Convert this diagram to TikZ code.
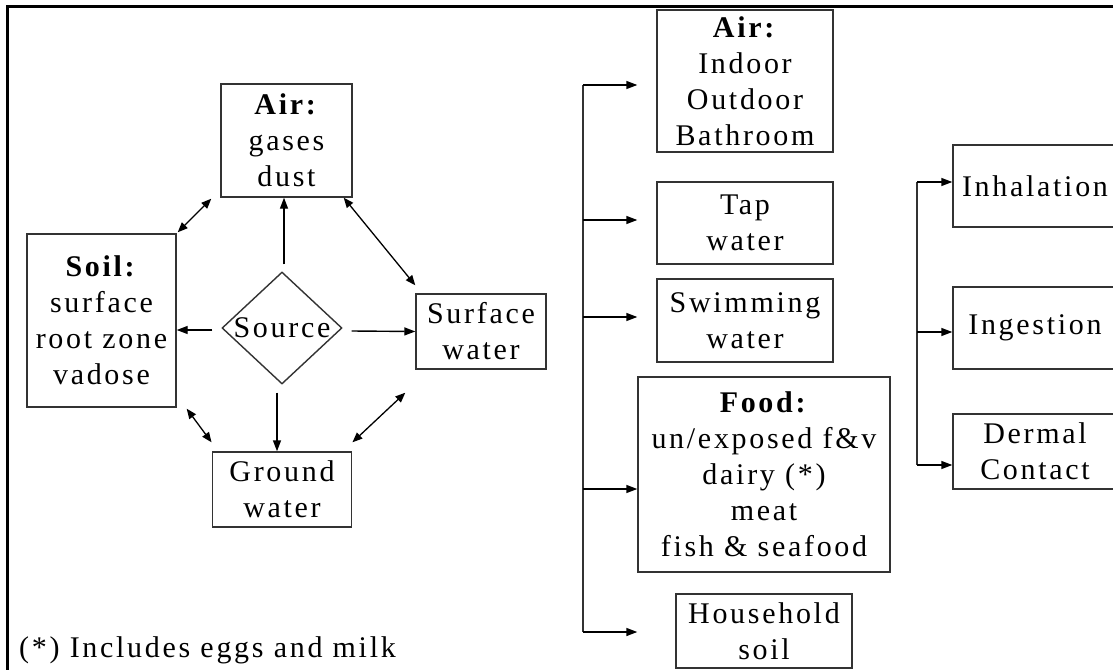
\documentclass[tikz,border=0pt]{standalone}
\usepackage{fontspec}
\setmainfont{Liberation Serif}[LetterSpace=9]
\usetikzlibrary{shapes.geometric,arrows.meta,calc}
\newcommand\fsz{\fontsize{30}{36}\selectfont}
\tikzset{
  box/.style={draw=black!80, line width=1.4pt, align=center, inner sep=0pt, font=\fsz},
  arr/.style={line width=1.4pt, -{Triangle[length=11pt,width=8pt]}},
  darr/.style={line width=1.3pt, {Triangle[length=10pt,width=8pt]}-{Triangle[length=10pt,width=8pt]}},
  trunk/.style={line width=1.5pt, draw=black!80}
}
\begin{document}
\begin{tikzpicture}[x=1pt,y=-1pt]
\useasboundingbox (0,0) rectangle (1113,669);
\clip (0,0) rectangle (1113,669);
\fill[white] (0,0) rectangle (1113,669);
\draw[line width=3pt] (7,7) rectangle (1130,690);

% left cluster
\node[box, minimum width=131pt, minimum height=113pt] (airL) at (286.5,140.5) {\textbf{Air:}\\gases\\dust};
\node[box, minimum width=149pt, minimum height=173pt] (soil) at (101.5,320.5) {\textbf{Soil:}\\surface\\root zone\\vadose};
\node[box, diamond, minimum width=120pt, minimum height=112pt] (src) at (282,328) {\makebox[0pt]{Source}};
\node[box, minimum width=130pt, minimum height=75pt] (surf) at (481,331.5) {Surface\\water};
\node[box, minimum width=139.5pt, minimum height=75pt] (ground) at (282,489.5) {Ground\\water};

\draw[arr] ([shift={(2,-7)}]src.north) -- ([shift={(-2.5,0)}]airL.south);
\draw[arr] ([shift={(-9,2)}]src.west) -- ([shift={(0,9.5)}]soil.east);
\draw[arr] ([shift={(9,3)}]src.east) -- (surf.west);
\draw[arr] ([shift={(-5,8)}]src.south) -- ([shift={(-5,0)}]ground.north);
\draw[darr] ([shift={(-9,1)}]airL.south west) -- ([shift={(1,-1)}]soil.north east);
\draw[darr] ([shift={(-9,0)}]airL.south east) -- ([shift={(0,-8)}]surf.north west);
\draw[darr] ([shift={(10,1)}]soil.south east) -- ([shift={(0,-9)}]ground.north west);
\draw[darr] ([shift={(-10,23)}]surf.south west) -- ([shift={(0,-9)}]ground.north east);

\node[font=\fsz, anchor=base west, inner sep=0pt] (note) at (19,657) {(*) Includes eggs and milk};

% media column
\node[box, minimum width=176pt, minimum height=142pt] (airR) at (745,81) {\textbf{Air:}\\Indoor\\Outdoor\\Bathroom};
\node[box, minimum width=176pt, minimum height=82pt] (tap) at (745,223) {Tap\\water};
\node[box, minimum width=176pt, minimum height=83pt] (swim) at (745,320.5) {Swimming\\water};
\node[box, minimum width=252pt, minimum height=195pt] (food) at (764,474.5) {\textbf{Food:}\\un/exposed f\&v\\dairy (*)\\meat\\fish \& seafood};
\node[box, minimum width=176pt, minimum height=74pt] (house) at (764,631) {Household\\soil};

\coordinate (b1) at (583,85);
\coordinate (b2) at (583,220);
\coordinate (b3) at (583,317);
\coordinate (b4) at (583,489);
\coordinate (b5) at (583,632);
\draw[trunk] (b1) -- (b5);
\draw[arr] (b1) -- (b1 -| food.west);
\draw[arr] (b2) -- (b2 -| food.west);
\draw[arr] (b3) -- (b3 -| food.west);
\draw[arr] (b4) -- (food.west |- b4);
\draw[arr] (b5) -- (b5 -| food.west);

% routes column
\node[box, minimum width=164pt, minimum height=82pt] (inh) at (1035,186) {Inhalation};
\node[box, minimum width=164pt, minimum height=82pt] (ing) at (1035,328) {Ingestion};
\node[box, minimum width=164pt, minimum height=75pt] (derm) at (1035,451.5) {Dermal\\Contact};

\coordinate (c1) at (917,182);
\coordinate (c2) at (917,332);
\coordinate (c3) at (917,465);
\draw[trunk] (c1) -- (c3);
\draw[arr] (c1) -- (c1 -| inh.west);
\draw[arr] (c2) -- (c2 -| ing.west);
\draw[arr] (c3) -- (c3 -| derm.west);
\end{tikzpicture}
\end{document}
